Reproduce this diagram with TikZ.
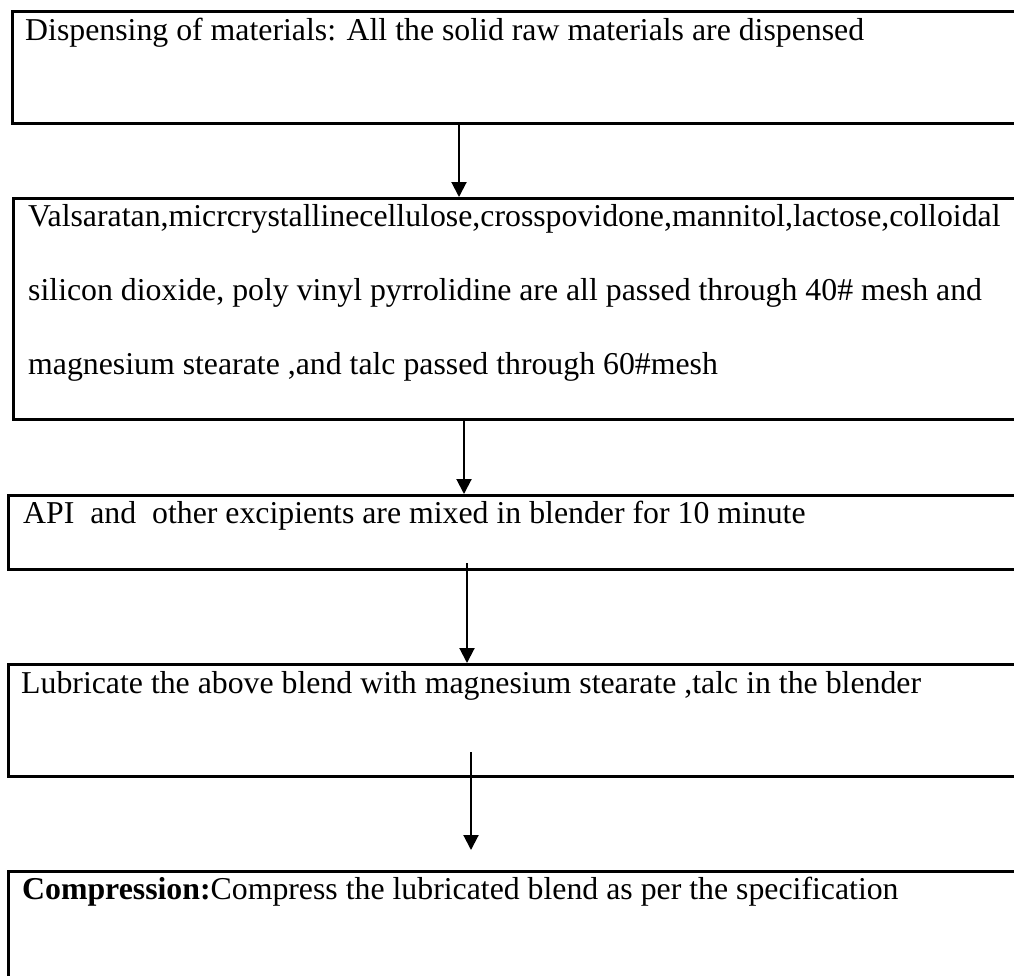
\documentclass[tikz,border=0pt]{standalone}
\usepackage{fontspec}
\setmainfont{Liberation Serif}
\usetikzlibrary{arrows.meta}
\begin{document}
\begin{tikzpicture}
[x=1pt,y=-1pt,%
  boxDecorate/.style={draw,line width=3pt,anchor=north west,inner sep=0pt,minimum width=1040pt},
  textDecorate/.style={anchor=base west,inner sep=0pt,font=\fontsize{31.8}{74}\selectfont},
  lineDecorate/.style={line width=2pt,-{Triangle[length=15pt,width=15pt]}}]
%% canvas
\path[use as bounding box,clip] (0,0) rectangle (1014,975);
%% boxes
\foreach \nodename/\x/\y/\h in {
  box1/11/10/112, box2/12/197/221, box3/7/494/74,
  box4/7/663/112, box5/7/870/140}
{
  \node (\nodename) at (\x,\y) [boxDecorate,minimum height=\h pt] {};
}
%% texts (base of text2 is its last line)
\node (text1) at (25,40) [textDecorate] {Dispensing of materials: All the solid raw materials are dispensed};
\node (text2) at (28,374) [textDecorate,align=left] {Valsaratan,micrcrystallinecellulose,crosspovidone,mannitol,lactose,colloidal\\
  silicon dioxide, poly vinyl pyrrolidine are all passed through 40\# mesh and\\
  magnesium stearate ,and talc passed through 60\#mesh};
\node (text3) at (23,523) [textDecorate] {API\ \ and\ \ other excipients are mixed in blender for 10 minute};
\node (text4) at (21,693) [textDecorate] {Lubricate the above blend with magnesium stearate ,talc in the blender};
\node (text5) at (22,899) [textDecorate] {\textbf{Compression:}Compress the lubricated blend as per the specification};
%% arrows
\coordinate (col1) at (459,0);
\coordinate (col2) at (464,0);
\coordinate (start3) at (467,563);
\coordinate (start4) at (471,752);
\coordinate (end4) at (471,850);
\draw[lineDecorate] (box1.south -| col1) -- (box2.north -| col1);
\draw[lineDecorate] (box2.south -| col2) -- (box3.north -| col2);
\draw[lineDecorate] (start3) -- (box4.north -| start3);
\draw[lineDecorate] (start4) -- (end4);
\end{tikzpicture}
\end{document}
